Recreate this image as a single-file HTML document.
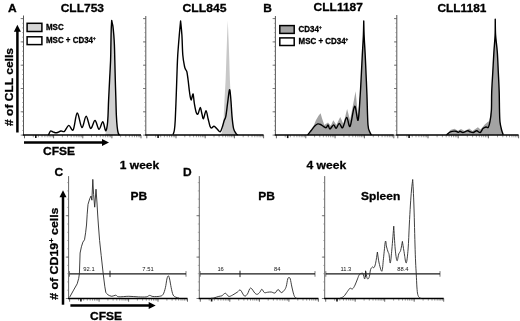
<!DOCTYPE html>
<html><head><meta charset="utf-8"><title>Figure</title>
<style>
html,body{margin:0;padding:0;background:#fff;}
svg{display:block;font-family:"Liberation Sans",Arial,sans-serif;filter:blur(0.35px);}
</style></head><body>
<svg width="520" height="321" viewBox="0 0 520 321">
<rect width="520" height="321" fill="#fff"/>
<path d="M105.00,135.30 C105.23,134.42 106.02,131.72 106.40,130.00 C106.78,128.28 107.03,127.33 107.30,125.00 C107.57,122.67 107.78,120.17 108.00,116.00 C108.22,111.83 108.33,106.00 108.60,100.00 C108.87,94.00 109.27,86.67 109.60,80.00 C109.93,73.33 110.38,65.83 110.60,60.00 C110.82,54.17 110.80,50.00 110.90,45.00 C111.00,40.00 111.07,34.08 111.20,30.00 C111.33,25.92 111.62,22.08 111.70,20.50 C111.90,21.42 112.55,23.58 112.90,26.00 C113.25,28.42 113.55,31.83 113.80,35.00 C114.05,38.17 114.23,40.83 114.40,45.00 C114.57,49.17 114.65,54.17 114.80,60.00 C114.95,65.83 115.12,73.33 115.30,80.00 C115.48,86.67 115.72,94.00 115.90,100.00 C116.08,106.00 116.18,111.50 116.40,116.00 C116.62,120.50 116.90,124.17 117.20,127.00 C117.50,129.83 117.80,131.62 118.20,133.00 C118.60,134.38 119.37,134.92 119.60,135.30 Z" fill="#d0d0d0"/>
<path d="M48.40,135.30 C48.75,134.58 49.73,131.57 50.50,131.00 C51.27,130.43 51.98,131.60 53.00,131.90 C54.02,132.20 55.27,132.95 56.60,132.80 C57.93,132.65 59.70,131.23 61.00,131.00 C62.30,130.77 63.10,132.33 64.40,131.40 C65.70,130.47 67.33,125.67 68.80,125.40 C70.27,125.13 71.80,131.87 73.20,129.80 C74.60,127.73 75.75,113.38 77.20,113.00 C78.65,112.62 80.40,126.97 81.90,127.50 C83.40,128.03 84.75,116.05 86.20,116.20 C87.65,116.35 89.13,127.68 90.60,128.40 C92.07,129.12 93.60,120.35 95.00,120.50 C96.40,120.65 97.70,129.08 99.00,129.30 C100.30,129.52 101.70,121.55 102.80,121.80 C103.90,122.05 104.85,130.27 105.60,130.80 C106.35,131.33 106.90,127.47 107.30,125.00 C107.70,122.53 107.78,120.17 108.00,116.00 C108.22,111.83 108.33,106.00 108.60,100.00 C108.87,94.00 109.27,86.67 109.60,80.00 C109.93,73.33 110.38,65.83 110.60,60.00 C110.82,54.17 110.80,50.00 110.90,45.00 C111.00,40.00 111.07,34.08 111.20,30.00 C111.33,25.92 111.62,22.08 111.70,20.50 C111.82,21.05 112.20,22.88 112.40,23.80 C112.60,24.72 112.67,24.13 112.90,26.00 C113.13,27.87 113.55,31.83 113.80,35.00 C114.05,38.17 114.23,40.83 114.40,45.00 C114.57,49.17 114.65,54.17 114.80,60.00 C114.95,65.83 115.12,73.33 115.30,80.00 C115.48,86.67 115.72,94.00 115.90,100.00 C116.08,106.00 116.18,111.50 116.40,116.00 C116.62,120.50 116.90,124.17 117.20,127.00 C117.50,129.83 117.80,131.62 118.20,133.00 C118.60,134.38 119.37,134.92 119.60,135.30" fill="none" stroke="#000" stroke-width="1.4" stroke-linejoin="round"/>
<path d="M219.50,135.00 C219.92,134.55 221.38,134.13 222.00,132.30 C222.62,130.47 222.92,126.48 223.20,124.00 C223.48,121.52 223.48,121.40 223.70,117.40 C223.92,113.40 224.18,106.23 224.50,100.00 C224.82,93.77 225.30,86.67 225.60,80.00 C225.90,73.33 226.07,66.67 226.30,60.00 C226.53,53.33 226.75,46.58 227.00,40.00 C227.25,33.42 227.67,23.75 227.80,20.50 C227.93,23.75 228.35,33.42 228.60,40.00 C228.85,46.58 229.08,53.33 229.30,60.00 C229.52,66.67 229.62,73.33 229.90,80.00 C230.18,86.67 230.65,93.77 231.00,100.00 C231.35,106.23 231.62,112.95 232.00,117.40 C232.38,121.85 232.78,124.05 233.30,126.70 C233.82,129.35 234.48,131.92 235.10,133.30 C235.72,134.68 236.68,134.72 237.00,135.00 Z" fill="#c8c8c8"/>
<path d="M173.10,134.60 C173.32,133.83 174.04,132.43 174.40,130.00 C174.76,127.57 174.94,125.83 175.25,120.00 C175.56,114.17 175.94,103.33 176.25,95.00 C176.56,86.67 176.85,76.67 177.10,70.00 C177.35,63.33 177.38,60.83 177.75,55.00 C178.12,49.17 178.83,40.67 179.30,35.00 C179.78,29.33 180.38,23.33 180.60,21.00 C180.82,23.33 181.53,29.33 181.90,35.00 C182.27,40.67 182.37,49.79 182.80,55.00 C183.23,60.21 184.03,63.85 184.50,66.25 C184.97,68.65 185.20,68.46 185.60,69.40 C186.00,70.34 186.48,70.13 186.90,71.90 C187.32,73.67 187.68,76.78 188.10,80.00 C188.52,83.22 189.05,88.50 189.40,91.25 C189.75,94.00 189.89,95.04 190.20,96.50 C190.51,97.96 190.90,100.08 191.25,100.00 C191.60,99.92 191.99,97.00 192.30,96.00 C192.61,95.00 192.87,93.67 193.10,94.00 C193.33,94.33 193.48,96.38 193.70,98.00 C193.92,99.62 193.97,101.33 194.40,103.75 C194.83,106.17 195.63,110.83 196.25,112.50 C196.87,114.17 197.43,114.58 198.10,113.75 C198.77,112.92 199.62,107.50 200.25,107.50 C200.88,107.50 201.36,111.88 201.90,113.75 C202.44,115.62 202.82,119.28 203.50,118.75 C204.18,118.22 205.23,110.60 206.00,110.60 C206.77,110.60 207.43,116.14 208.10,118.75 C208.77,121.36 209.43,124.69 210.00,126.25 C210.57,127.81 210.83,128.10 211.50,128.10 C212.17,128.10 213.10,126.14 214.00,126.25 C214.90,126.36 215.87,127.83 216.90,128.75 C217.93,129.68 219.28,132.14 220.20,131.80 C221.12,131.46 221.72,128.63 222.40,126.70 C223.08,124.77 223.73,121.92 224.30,120.20 C224.87,118.48 225.23,119.37 225.80,116.40 C226.37,113.43 227.08,106.85 227.70,102.40 C228.32,97.95 228.98,90.32 229.50,89.70 C230.02,89.08 230.37,94.08 230.80,98.70 C231.23,103.32 231.63,112.42 232.10,117.40 C232.57,122.38 232.97,125.95 233.60,128.60 C234.23,131.25 235.20,132.23 235.90,133.30 C236.60,134.37 237.48,134.72 237.80,135.00" fill="none" stroke="#000" stroke-width="1.4" stroke-linejoin="round"/>
<path d="M307.50,135.10 L314.00,124.90 L315.90,120.20 L318.70,115.50 L320.60,113.30 L322.00,118.30 L324.30,124.90 L328.00,122.60 L330.80,125.80 L333.30,120.20 L336.40,124.90 L340.20,117.00 L343.40,123.90 L347.10,109.00 L350.10,120.20 L355.60,91.30 L357.90,115.50 L360.20,95.00 L362.30,55.00 L363.40,35.00 L363.75,21.00 L364.10,35.00 L365.20,55.00 L366.95,95.00 L368.00,125.00 L370.00,132.50 L371.50,135.10 Z" fill="#a3a3a3"/>
<path d="M307.50,135.10 C308.12,134.33 309.95,132.05 311.20,130.50 C312.45,128.95 313.90,126.90 315.00,125.80 C316.10,124.70 316.87,124.12 317.80,123.90 C318.73,123.68 319.67,124.08 320.60,124.50 C321.53,124.92 322.47,125.87 323.40,126.40 C324.33,126.93 325.43,127.95 326.20,127.70 C326.97,127.45 327.38,124.68 328.00,124.90 C328.62,125.12 328.97,129.00 329.90,129.00 C330.83,129.00 332.57,125.03 333.60,124.90 C334.63,124.77 335.15,128.45 336.10,128.20 C337.05,127.95 338.22,123.48 339.30,123.40 C340.38,123.32 341.37,128.70 342.60,127.70 C343.83,126.70 345.45,117.62 346.70,117.40 C347.95,117.18 348.78,128.27 350.10,126.40 C351.42,124.53 353.27,107.23 354.60,106.20 C355.93,105.17 357.17,122.07 358.10,120.20 C359.03,118.33 359.67,102.53 360.20,95.00 C360.73,87.47 360.95,81.67 361.30,75.00 C361.65,68.33 361.95,61.67 362.30,55.00 C362.65,48.33 363.16,40.67 363.40,35.00 C363.64,29.33 363.69,23.33 363.75,21.00 C363.81,23.33 363.86,29.33 364.10,35.00 C364.34,40.67 364.87,48.33 365.20,55.00 C365.53,61.67 365.81,68.33 366.10,75.00 C366.39,81.67 366.63,86.67 366.95,95.00 C367.27,103.33 367.49,118.75 368.00,125.00 C368.51,131.25 369.42,130.82 370.00,132.50 C370.58,134.18 371.25,134.67 371.50,135.10" fill="none" stroke="#000" stroke-width="1.4" stroke-linejoin="round"/>
<path d="M446.50,134.90 L450.40,130.00 L454.40,128.80 L458.00,130.80 L461.00,129.00 L464.50,131.00 L469.20,128.50 L472.50,131.00 L477.90,127.30 L480.50,129.50 L484.80,124.40 L487.70,122.10 L489.40,121.00 L491.40,110.00 L491.70,92.00 L492.80,72.00 L493.90,52.00 L495.10,35.00 L495.25,19.20 L495.60,35.00 L497.30,52.00 L498.30,72.00 L499.20,92.00 L499.50,110.00 L500.00,122.00 L501.60,130.00 L503.30,134.80 Z" fill="#a3a3a3"/>
<path d="M446.50,134.90 C447.15,134.38 448.87,132.42 450.40,131.80 C451.93,131.18 454.37,131.10 455.70,131.20 C457.03,131.30 457.68,132.38 458.40,132.40 C459.12,132.42 459.25,131.28 460.00,131.30 C460.75,131.32 461.93,132.50 462.90,132.50 C463.87,132.50 464.95,131.58 465.80,131.30 C466.65,131.02 467.23,130.70 468.00,130.80 C468.77,130.90 469.52,131.62 470.40,131.90 C471.28,132.18 472.25,132.68 473.30,132.50 C474.35,132.32 475.55,130.80 476.70,130.80 C477.85,130.80 479.15,132.88 480.20,132.50 C481.25,132.12 482.03,129.42 483.00,128.50 C483.97,127.58 485.12,127.20 486.00,127.00 C486.88,126.80 487.63,128.22 488.30,127.30 C488.97,126.38 489.48,124.38 490.00,121.50 C490.52,118.62 491.12,114.92 491.40,110.00 C491.68,105.08 491.47,98.33 491.70,92.00 C491.93,85.67 492.43,78.67 492.80,72.00 C493.17,65.33 493.52,58.17 493.90,52.00 C494.28,45.83 494.88,40.47 495.10,35.00 C495.33,29.53 495.23,21.83 495.25,19.20 C495.31,21.83 495.26,29.53 495.60,35.00 C495.94,40.47 496.85,45.83 497.30,52.00 C497.75,58.17 497.98,65.33 498.30,72.00 C498.62,78.67 499.00,85.67 499.20,92.00 C499.40,98.33 499.37,105.00 499.50,110.00 C499.63,115.00 499.65,118.67 500.00,122.00 C500.35,125.33 501.05,127.87 501.60,130.00 C502.15,132.13 503.02,134.00 503.30,134.80" fill="none" stroke="#000" stroke-width="1.4" stroke-linejoin="round"/>
<path d="M23.5,15.5 V135.1" stroke="#444" stroke-width="0.9"/>
<path d="M23.5,135.1 h-2.8" stroke="#444" stroke-width="0.7"/>
<path d="M23.5,111.8 h-2.8" stroke="#444" stroke-width="0.7"/>
<path d="M23.5,88.5 h-2.8" stroke="#444" stroke-width="0.7"/>
<path d="M23.5,65.2 h-2.8" stroke="#444" stroke-width="0.7"/>
<path d="M23.5,41.9 h-2.8" stroke="#444" stroke-width="0.7"/>
<path d="M23.5,18.6 h-2.8" stroke="#444" stroke-width="0.7"/>
<path d="M23.5,135.1 h-1.5" stroke="#777" stroke-width="0.5"/>
<path d="M23.5,130.4 h-1.5" stroke="#777" stroke-width="0.5"/>
<path d="M23.5,125.8 h-1.5" stroke="#777" stroke-width="0.5"/>
<path d="M23.5,121.1 h-1.5" stroke="#777" stroke-width="0.5"/>
<path d="M23.5,116.5 h-1.5" stroke="#777" stroke-width="0.5"/>
<path d="M23.5,111.8 h-1.5" stroke="#777" stroke-width="0.5"/>
<path d="M23.5,107.1 h-1.5" stroke="#777" stroke-width="0.5"/>
<path d="M23.5,102.5 h-1.5" stroke="#777" stroke-width="0.5"/>
<path d="M23.5,97.8 h-1.5" stroke="#777" stroke-width="0.5"/>
<path d="M23.5,93.2 h-1.5" stroke="#777" stroke-width="0.5"/>
<path d="M23.5,88.5 h-1.5" stroke="#777" stroke-width="0.5"/>
<path d="M23.5,83.8 h-1.5" stroke="#777" stroke-width="0.5"/>
<path d="M23.5,79.2 h-1.5" stroke="#777" stroke-width="0.5"/>
<path d="M23.5,74.5 h-1.5" stroke="#777" stroke-width="0.5"/>
<path d="M23.5,69.9 h-1.5" stroke="#777" stroke-width="0.5"/>
<path d="M23.5,65.2 h-1.5" stroke="#777" stroke-width="0.5"/>
<path d="M23.5,60.5 h-1.5" stroke="#777" stroke-width="0.5"/>
<path d="M23.5,55.9 h-1.5" stroke="#777" stroke-width="0.5"/>
<path d="M23.5,51.2 h-1.5" stroke="#777" stroke-width="0.5"/>
<path d="M23.5,46.6 h-1.5" stroke="#777" stroke-width="0.5"/>
<path d="M23.5,41.9 h-1.5" stroke="#777" stroke-width="0.5"/>
<path d="M23.5,37.2 h-1.5" stroke="#777" stroke-width="0.5"/>
<path d="M23.5,32.6 h-1.5" stroke="#777" stroke-width="0.5"/>
<path d="M23.5,27.9 h-1.5" stroke="#777" stroke-width="0.5"/>
<path d="M23.5,23.3 h-1.5" stroke="#777" stroke-width="0.5"/>
<path d="M23.5,18.6 h-1.5" stroke="#777" stroke-width="0.5"/>
<path d="M24.5,135.1 v3.2" stroke="#222" stroke-width="0.7"/>
<path d="M33.3,135.1 v2.2" stroke="#444" stroke-width="0.5"/>
<path d="M38.4,135.1 v2.2" stroke="#444" stroke-width="0.5"/>
<path d="M42.0,135.1 v2.2" stroke="#444" stroke-width="0.5"/>
<path d="M44.9,135.1 v2.2" stroke="#444" stroke-width="0.5"/>
<path d="M47.2,135.1 v2.2" stroke="#444" stroke-width="0.5"/>
<path d="M49.1,135.1 v2.2" stroke="#444" stroke-width="0.5"/>
<path d="M50.8,135.1 v2.2" stroke="#444" stroke-width="0.5"/>
<path d="M52.3,135.1 v2.2" stroke="#444" stroke-width="0.5"/>
<path d="M53.6,135.1 v3.2" stroke="#222" stroke-width="0.7"/>
<path d="M62.4,135.1 v2.2" stroke="#444" stroke-width="0.5"/>
<path d="M67.5,135.1 v2.2" stroke="#444" stroke-width="0.5"/>
<path d="M71.2,135.1 v2.2" stroke="#444" stroke-width="0.5"/>
<path d="M74.0,135.1 v2.2" stroke="#444" stroke-width="0.5"/>
<path d="M76.3,135.1 v2.2" stroke="#444" stroke-width="0.5"/>
<path d="M78.2,135.1 v2.2" stroke="#444" stroke-width="0.5"/>
<path d="M79.9,135.1 v2.2" stroke="#444" stroke-width="0.5"/>
<path d="M81.4,135.1 v2.2" stroke="#444" stroke-width="0.5"/>
<path d="M82.8,135.1 v3.2" stroke="#222" stroke-width="0.7"/>
<path d="M91.5,135.1 v2.2" stroke="#444" stroke-width="0.5"/>
<path d="M96.6,135.1 v2.2" stroke="#444" stroke-width="0.5"/>
<path d="M100.3,135.1 v2.2" stroke="#444" stroke-width="0.5"/>
<path d="M103.1,135.1 v2.2" stroke="#444" stroke-width="0.5"/>
<path d="M105.4,135.1 v2.2" stroke="#444" stroke-width="0.5"/>
<path d="M107.4,135.1 v2.2" stroke="#444" stroke-width="0.5"/>
<path d="M109.1,135.1 v2.2" stroke="#444" stroke-width="0.5"/>
<path d="M110.5,135.1 v2.2" stroke="#444" stroke-width="0.5"/>
<path d="M111.9,135.1 v3.2" stroke="#222" stroke-width="0.7"/>
<path d="M120.6,135.1 v2.2" stroke="#444" stroke-width="0.5"/>
<path d="M125.8,135.1 v2.2" stroke="#444" stroke-width="0.5"/>
<path d="M129.4,135.1 v2.2" stroke="#444" stroke-width="0.5"/>
<path d="M132.2,135.1 v2.2" stroke="#444" stroke-width="0.5"/>
<path d="M134.5,135.1 v2.2" stroke="#444" stroke-width="0.5"/>
<path d="M136.5,135.1 v2.2" stroke="#444" stroke-width="0.5"/>
<path d="M138.2,135.1 v2.2" stroke="#444" stroke-width="0.5"/>
<path d="M139.7,135.1 v2.2" stroke="#444" stroke-width="0.5"/>
<path d="M141.0,135.1 v3.2" stroke="#222" stroke-width="0.7"/>
<path d="M35.8,135.1 v3" stroke="#111" stroke-width="1.6"/>
<path d="M22.9,135.1 H141.0" stroke="#000" stroke-width="1.5"/>
<path d="M145.8,16.0 V135.1" stroke="#444" stroke-width="0.9"/>
<path d="M145.8,135.1 h-2.8" stroke="#444" stroke-width="0.7"/>
<path d="M145.8,111.8 h-2.8" stroke="#444" stroke-width="0.7"/>
<path d="M145.8,88.5 h-2.8" stroke="#444" stroke-width="0.7"/>
<path d="M145.8,65.2 h-2.8" stroke="#444" stroke-width="0.7"/>
<path d="M145.8,41.9 h-2.8" stroke="#444" stroke-width="0.7"/>
<path d="M145.8,18.6 h-2.8" stroke="#444" stroke-width="0.7"/>
<path d="M145.8,135.1 h-1.5" stroke="#777" stroke-width="0.5"/>
<path d="M145.8,130.4 h-1.5" stroke="#777" stroke-width="0.5"/>
<path d="M145.8,125.8 h-1.5" stroke="#777" stroke-width="0.5"/>
<path d="M145.8,121.1 h-1.5" stroke="#777" stroke-width="0.5"/>
<path d="M145.8,116.5 h-1.5" stroke="#777" stroke-width="0.5"/>
<path d="M145.8,111.8 h-1.5" stroke="#777" stroke-width="0.5"/>
<path d="M145.8,107.1 h-1.5" stroke="#777" stroke-width="0.5"/>
<path d="M145.8,102.5 h-1.5" stroke="#777" stroke-width="0.5"/>
<path d="M145.8,97.8 h-1.5" stroke="#777" stroke-width="0.5"/>
<path d="M145.8,93.2 h-1.5" stroke="#777" stroke-width="0.5"/>
<path d="M145.8,88.5 h-1.5" stroke="#777" stroke-width="0.5"/>
<path d="M145.8,83.8 h-1.5" stroke="#777" stroke-width="0.5"/>
<path d="M145.8,79.2 h-1.5" stroke="#777" stroke-width="0.5"/>
<path d="M145.8,74.5 h-1.5" stroke="#777" stroke-width="0.5"/>
<path d="M145.8,69.9 h-1.5" stroke="#777" stroke-width="0.5"/>
<path d="M145.8,65.2 h-1.5" stroke="#777" stroke-width="0.5"/>
<path d="M145.8,60.5 h-1.5" stroke="#777" stroke-width="0.5"/>
<path d="M145.8,55.9 h-1.5" stroke="#777" stroke-width="0.5"/>
<path d="M145.8,51.2 h-1.5" stroke="#777" stroke-width="0.5"/>
<path d="M145.8,46.6 h-1.5" stroke="#777" stroke-width="0.5"/>
<path d="M145.8,41.9 h-1.5" stroke="#777" stroke-width="0.5"/>
<path d="M145.8,37.2 h-1.5" stroke="#777" stroke-width="0.5"/>
<path d="M145.8,32.6 h-1.5" stroke="#777" stroke-width="0.5"/>
<path d="M145.8,27.9 h-1.5" stroke="#777" stroke-width="0.5"/>
<path d="M145.8,23.3 h-1.5" stroke="#777" stroke-width="0.5"/>
<path d="M145.8,18.6 h-1.5" stroke="#777" stroke-width="0.5"/>
<path d="M146.8,135.1 v3.2" stroke="#222" stroke-width="0.7"/>
<path d="M155.6,135.1 v2.2" stroke="#444" stroke-width="0.5"/>
<path d="M160.7,135.1 v2.2" stroke="#444" stroke-width="0.5"/>
<path d="M164.4,135.1 v2.2" stroke="#444" stroke-width="0.5"/>
<path d="M167.2,135.1 v2.2" stroke="#444" stroke-width="0.5"/>
<path d="M169.5,135.1 v2.2" stroke="#444" stroke-width="0.5"/>
<path d="M171.5,135.1 v2.2" stroke="#444" stroke-width="0.5"/>
<path d="M173.2,135.1 v2.2" stroke="#444" stroke-width="0.5"/>
<path d="M174.7,135.1 v2.2" stroke="#444" stroke-width="0.5"/>
<path d="M176.0,135.1 v3.2" stroke="#222" stroke-width="0.7"/>
<path d="M184.8,135.1 v2.2" stroke="#444" stroke-width="0.5"/>
<path d="M189.9,135.1 v2.2" stroke="#444" stroke-width="0.5"/>
<path d="M193.6,135.1 v2.2" stroke="#444" stroke-width="0.5"/>
<path d="M196.4,135.1 v2.2" stroke="#444" stroke-width="0.5"/>
<path d="M198.7,135.1 v2.2" stroke="#444" stroke-width="0.5"/>
<path d="M200.7,135.1 v2.2" stroke="#444" stroke-width="0.5"/>
<path d="M202.4,135.1 v2.2" stroke="#444" stroke-width="0.5"/>
<path d="M203.9,135.1 v2.2" stroke="#444" stroke-width="0.5"/>
<path d="M205.2,135.1 v3.2" stroke="#222" stroke-width="0.7"/>
<path d="M214.0,135.1 v2.2" stroke="#444" stroke-width="0.5"/>
<path d="M219.1,135.1 v2.2" stroke="#444" stroke-width="0.5"/>
<path d="M222.8,135.1 v2.2" stroke="#444" stroke-width="0.5"/>
<path d="M225.6,135.1 v2.2" stroke="#444" stroke-width="0.5"/>
<path d="M227.9,135.1 v2.2" stroke="#444" stroke-width="0.5"/>
<path d="M229.9,135.1 v2.2" stroke="#444" stroke-width="0.5"/>
<path d="M231.6,135.1 v2.2" stroke="#444" stroke-width="0.5"/>
<path d="M233.1,135.1 v2.2" stroke="#444" stroke-width="0.5"/>
<path d="M234.4,135.1 v3.2" stroke="#222" stroke-width="0.7"/>
<path d="M243.2,135.1 v2.2" stroke="#444" stroke-width="0.5"/>
<path d="M248.3,135.1 v2.2" stroke="#444" stroke-width="0.5"/>
<path d="M252.0,135.1 v2.2" stroke="#444" stroke-width="0.5"/>
<path d="M254.8,135.1 v2.2" stroke="#444" stroke-width="0.5"/>
<path d="M257.1,135.1 v2.2" stroke="#444" stroke-width="0.5"/>
<path d="M259.1,135.1 v2.2" stroke="#444" stroke-width="0.5"/>
<path d="M260.8,135.1 v2.2" stroke="#444" stroke-width="0.5"/>
<path d="M262.3,135.1 v2.2" stroke="#444" stroke-width="0.5"/>
<path d="M263.6,135.1 v3.2" stroke="#222" stroke-width="0.7"/>
<path d="M158.1,135.1 v3" stroke="#111" stroke-width="1.6"/>
<path d="M145.2,135.1 H263.6" stroke="#000" stroke-width="1.5"/>
<path d="M275.4,16.0 V135.1" stroke="#444" stroke-width="0.9"/>
<path d="M275.4,135.1 h-2.8" stroke="#444" stroke-width="0.7"/>
<path d="M275.4,111.8 h-2.8" stroke="#444" stroke-width="0.7"/>
<path d="M275.4,88.5 h-2.8" stroke="#444" stroke-width="0.7"/>
<path d="M275.4,65.2 h-2.8" stroke="#444" stroke-width="0.7"/>
<path d="M275.4,41.9 h-2.8" stroke="#444" stroke-width="0.7"/>
<path d="M275.4,18.6 h-2.8" stroke="#444" stroke-width="0.7"/>
<path d="M275.4,135.1 h-1.5" stroke="#777" stroke-width="0.5"/>
<path d="M275.4,130.4 h-1.5" stroke="#777" stroke-width="0.5"/>
<path d="M275.4,125.8 h-1.5" stroke="#777" stroke-width="0.5"/>
<path d="M275.4,121.1 h-1.5" stroke="#777" stroke-width="0.5"/>
<path d="M275.4,116.5 h-1.5" stroke="#777" stroke-width="0.5"/>
<path d="M275.4,111.8 h-1.5" stroke="#777" stroke-width="0.5"/>
<path d="M275.4,107.1 h-1.5" stroke="#777" stroke-width="0.5"/>
<path d="M275.4,102.5 h-1.5" stroke="#777" stroke-width="0.5"/>
<path d="M275.4,97.8 h-1.5" stroke="#777" stroke-width="0.5"/>
<path d="M275.4,93.2 h-1.5" stroke="#777" stroke-width="0.5"/>
<path d="M275.4,88.5 h-1.5" stroke="#777" stroke-width="0.5"/>
<path d="M275.4,83.8 h-1.5" stroke="#777" stroke-width="0.5"/>
<path d="M275.4,79.2 h-1.5" stroke="#777" stroke-width="0.5"/>
<path d="M275.4,74.5 h-1.5" stroke="#777" stroke-width="0.5"/>
<path d="M275.4,69.9 h-1.5" stroke="#777" stroke-width="0.5"/>
<path d="M275.4,65.2 h-1.5" stroke="#777" stroke-width="0.5"/>
<path d="M275.4,60.5 h-1.5" stroke="#777" stroke-width="0.5"/>
<path d="M275.4,55.9 h-1.5" stroke="#777" stroke-width="0.5"/>
<path d="M275.4,51.2 h-1.5" stroke="#777" stroke-width="0.5"/>
<path d="M275.4,46.6 h-1.5" stroke="#777" stroke-width="0.5"/>
<path d="M275.4,41.9 h-1.5" stroke="#777" stroke-width="0.5"/>
<path d="M275.4,37.2 h-1.5" stroke="#777" stroke-width="0.5"/>
<path d="M275.4,32.6 h-1.5" stroke="#777" stroke-width="0.5"/>
<path d="M275.4,27.9 h-1.5" stroke="#777" stroke-width="0.5"/>
<path d="M275.4,23.3 h-1.5" stroke="#777" stroke-width="0.5"/>
<path d="M275.4,18.6 h-1.5" stroke="#777" stroke-width="0.5"/>
<path d="M276.4,135.1 v3.2" stroke="#222" stroke-width="0.7"/>
<path d="M285.2,135.1 v2.2" stroke="#444" stroke-width="0.5"/>
<path d="M290.4,135.1 v2.2" stroke="#444" stroke-width="0.5"/>
<path d="M294.1,135.1 v2.2" stroke="#444" stroke-width="0.5"/>
<path d="M296.9,135.1 v2.2" stroke="#444" stroke-width="0.5"/>
<path d="M299.2,135.1 v2.2" stroke="#444" stroke-width="0.5"/>
<path d="M301.2,135.1 v2.2" stroke="#444" stroke-width="0.5"/>
<path d="M302.9,135.1 v2.2" stroke="#444" stroke-width="0.5"/>
<path d="M304.4,135.1 v2.2" stroke="#444" stroke-width="0.5"/>
<path d="M305.8,135.1 v3.2" stroke="#222" stroke-width="0.7"/>
<path d="M314.6,135.1 v2.2" stroke="#444" stroke-width="0.5"/>
<path d="M319.8,135.1 v2.2" stroke="#444" stroke-width="0.5"/>
<path d="M323.4,135.1 v2.2" stroke="#444" stroke-width="0.5"/>
<path d="M326.3,135.1 v2.2" stroke="#444" stroke-width="0.5"/>
<path d="M328.6,135.1 v2.2" stroke="#444" stroke-width="0.5"/>
<path d="M330.6,135.1 v2.2" stroke="#444" stroke-width="0.5"/>
<path d="M332.3,135.1 v2.2" stroke="#444" stroke-width="0.5"/>
<path d="M333.8,135.1 v2.2" stroke="#444" stroke-width="0.5"/>
<path d="M335.1,135.1 v3.2" stroke="#222" stroke-width="0.7"/>
<path d="M343.9,135.1 v2.2" stroke="#444" stroke-width="0.5"/>
<path d="M349.1,135.1 v2.2" stroke="#444" stroke-width="0.5"/>
<path d="M352.8,135.1 v2.2" stroke="#444" stroke-width="0.5"/>
<path d="M355.6,135.1 v2.2" stroke="#444" stroke-width="0.5"/>
<path d="M357.9,135.1 v2.2" stroke="#444" stroke-width="0.5"/>
<path d="M359.9,135.1 v2.2" stroke="#444" stroke-width="0.5"/>
<path d="M361.6,135.1 v2.2" stroke="#444" stroke-width="0.5"/>
<path d="M363.1,135.1 v2.2" stroke="#444" stroke-width="0.5"/>
<path d="M364.4,135.1 v3.2" stroke="#222" stroke-width="0.7"/>
<path d="M373.3,135.1 v2.2" stroke="#444" stroke-width="0.5"/>
<path d="M378.5,135.1 v2.2" stroke="#444" stroke-width="0.5"/>
<path d="M382.1,135.1 v2.2" stroke="#444" stroke-width="0.5"/>
<path d="M385.0,135.1 v2.2" stroke="#444" stroke-width="0.5"/>
<path d="M387.3,135.1 v2.2" stroke="#444" stroke-width="0.5"/>
<path d="M389.3,135.1 v2.2" stroke="#444" stroke-width="0.5"/>
<path d="M391.0,135.1 v2.2" stroke="#444" stroke-width="0.5"/>
<path d="M392.5,135.1 v2.2" stroke="#444" stroke-width="0.5"/>
<path d="M393.8,135.1 v3.2" stroke="#222" stroke-width="0.7"/>
<path d="M287.7,135.1 v3" stroke="#111" stroke-width="1.6"/>
<path d="M274.8,135.1 H393.8" stroke="#000" stroke-width="1.5"/>
<path d="M396.8,15.0 V135.1" stroke="#444" stroke-width="0.9"/>
<path d="M396.8,135.1 h-2.8" stroke="#444" stroke-width="0.7"/>
<path d="M396.8,111.8 h-2.8" stroke="#444" stroke-width="0.7"/>
<path d="M396.8,88.5 h-2.8" stroke="#444" stroke-width="0.7"/>
<path d="M396.8,65.2 h-2.8" stroke="#444" stroke-width="0.7"/>
<path d="M396.8,41.9 h-2.8" stroke="#444" stroke-width="0.7"/>
<path d="M396.8,18.6 h-2.8" stroke="#444" stroke-width="0.7"/>
<path d="M396.8,135.1 h-1.5" stroke="#777" stroke-width="0.5"/>
<path d="M396.8,130.4 h-1.5" stroke="#777" stroke-width="0.5"/>
<path d="M396.8,125.8 h-1.5" stroke="#777" stroke-width="0.5"/>
<path d="M396.8,121.1 h-1.5" stroke="#777" stroke-width="0.5"/>
<path d="M396.8,116.5 h-1.5" stroke="#777" stroke-width="0.5"/>
<path d="M396.8,111.8 h-1.5" stroke="#777" stroke-width="0.5"/>
<path d="M396.8,107.1 h-1.5" stroke="#777" stroke-width="0.5"/>
<path d="M396.8,102.5 h-1.5" stroke="#777" stroke-width="0.5"/>
<path d="M396.8,97.8 h-1.5" stroke="#777" stroke-width="0.5"/>
<path d="M396.8,93.2 h-1.5" stroke="#777" stroke-width="0.5"/>
<path d="M396.8,88.5 h-1.5" stroke="#777" stroke-width="0.5"/>
<path d="M396.8,83.8 h-1.5" stroke="#777" stroke-width="0.5"/>
<path d="M396.8,79.2 h-1.5" stroke="#777" stroke-width="0.5"/>
<path d="M396.8,74.5 h-1.5" stroke="#777" stroke-width="0.5"/>
<path d="M396.8,69.9 h-1.5" stroke="#777" stroke-width="0.5"/>
<path d="M396.8,65.2 h-1.5" stroke="#777" stroke-width="0.5"/>
<path d="M396.8,60.5 h-1.5" stroke="#777" stroke-width="0.5"/>
<path d="M396.8,55.9 h-1.5" stroke="#777" stroke-width="0.5"/>
<path d="M396.8,51.2 h-1.5" stroke="#777" stroke-width="0.5"/>
<path d="M396.8,46.6 h-1.5" stroke="#777" stroke-width="0.5"/>
<path d="M396.8,41.9 h-1.5" stroke="#777" stroke-width="0.5"/>
<path d="M396.8,37.2 h-1.5" stroke="#777" stroke-width="0.5"/>
<path d="M396.8,32.6 h-1.5" stroke="#777" stroke-width="0.5"/>
<path d="M396.8,27.9 h-1.5" stroke="#777" stroke-width="0.5"/>
<path d="M396.8,23.3 h-1.5" stroke="#777" stroke-width="0.5"/>
<path d="M396.8,18.6 h-1.5" stroke="#777" stroke-width="0.5"/>
<path d="M397.8,135.1 v3.2" stroke="#222" stroke-width="0.7"/>
<path d="M406.9,135.1 v2.2" stroke="#444" stroke-width="0.5"/>
<path d="M412.2,135.1 v2.2" stroke="#444" stroke-width="0.5"/>
<path d="M416.0,135.1 v2.2" stroke="#444" stroke-width="0.5"/>
<path d="M418.9,135.1 v2.2" stroke="#444" stroke-width="0.5"/>
<path d="M421.3,135.1 v2.2" stroke="#444" stroke-width="0.5"/>
<path d="M423.3,135.1 v2.2" stroke="#444" stroke-width="0.5"/>
<path d="M425.1,135.1 v2.2" stroke="#444" stroke-width="0.5"/>
<path d="M426.6,135.1 v2.2" stroke="#444" stroke-width="0.5"/>
<path d="M428.0,135.1 v3.2" stroke="#222" stroke-width="0.7"/>
<path d="M437.1,135.1 v2.2" stroke="#444" stroke-width="0.5"/>
<path d="M442.4,135.1 v2.2" stroke="#444" stroke-width="0.5"/>
<path d="M446.2,135.1 v2.2" stroke="#444" stroke-width="0.5"/>
<path d="M449.1,135.1 v2.2" stroke="#444" stroke-width="0.5"/>
<path d="M451.5,135.1 v2.2" stroke="#444" stroke-width="0.5"/>
<path d="M453.5,135.1 v2.2" stroke="#444" stroke-width="0.5"/>
<path d="M455.3,135.1 v2.2" stroke="#444" stroke-width="0.5"/>
<path d="M456.8,135.1 v2.2" stroke="#444" stroke-width="0.5"/>
<path d="M458.2,135.1 v3.2" stroke="#222" stroke-width="0.7"/>
<path d="M467.3,135.1 v2.2" stroke="#444" stroke-width="0.5"/>
<path d="M472.6,135.1 v2.2" stroke="#444" stroke-width="0.5"/>
<path d="M476.4,135.1 v2.2" stroke="#444" stroke-width="0.5"/>
<path d="M479.3,135.1 v2.2" stroke="#444" stroke-width="0.5"/>
<path d="M481.7,135.1 v2.2" stroke="#444" stroke-width="0.5"/>
<path d="M483.7,135.1 v2.2" stroke="#444" stroke-width="0.5"/>
<path d="M485.5,135.1 v2.2" stroke="#444" stroke-width="0.5"/>
<path d="M487.0,135.1 v2.2" stroke="#444" stroke-width="0.5"/>
<path d="M488.4,135.1 v3.2" stroke="#222" stroke-width="0.7"/>
<path d="M497.5,135.1 v2.2" stroke="#444" stroke-width="0.5"/>
<path d="M502.8,135.1 v2.2" stroke="#444" stroke-width="0.5"/>
<path d="M506.6,135.1 v2.2" stroke="#444" stroke-width="0.5"/>
<path d="M509.5,135.1 v2.2" stroke="#444" stroke-width="0.5"/>
<path d="M511.9,135.1 v2.2" stroke="#444" stroke-width="0.5"/>
<path d="M513.9,135.1 v2.2" stroke="#444" stroke-width="0.5"/>
<path d="M515.7,135.1 v2.2" stroke="#444" stroke-width="0.5"/>
<path d="M517.2,135.1 v2.2" stroke="#444" stroke-width="0.5"/>
<path d="M518.6,135.1 v3.2" stroke="#222" stroke-width="0.7"/>
<path d="M409.1,135.1 v3" stroke="#111" stroke-width="1.6"/>
<path d="M396.2,135.1 H518.6" stroke="#000" stroke-width="1.5"/>
<path d="M68.6,176.1 V298.5" stroke="#555" stroke-width="0.9"/>
<path d="M68.6,298.5 h-2.8" stroke="#444" stroke-width="0.7"/>
<path d="M68.6,257.1 h-2.8" stroke="#444" stroke-width="0.7"/>
<path d="M68.6,215.7 h-2.8" stroke="#444" stroke-width="0.7"/>
<path d="M68.6,298.5 h-1.5" stroke="#777" stroke-width="0.5"/>
<path d="M68.6,290.2 h-1.5" stroke="#777" stroke-width="0.5"/>
<path d="M68.6,281.9 h-1.5" stroke="#777" stroke-width="0.5"/>
<path d="M68.6,273.7 h-1.5" stroke="#777" stroke-width="0.5"/>
<path d="M68.6,265.4 h-1.5" stroke="#777" stroke-width="0.5"/>
<path d="M68.6,257.1 h-1.5" stroke="#777" stroke-width="0.5"/>
<path d="M68.6,248.8 h-1.5" stroke="#777" stroke-width="0.5"/>
<path d="M68.6,240.5 h-1.5" stroke="#777" stroke-width="0.5"/>
<path d="M68.6,232.3 h-1.5" stroke="#777" stroke-width="0.5"/>
<path d="M68.6,224.0 h-1.5" stroke="#777" stroke-width="0.5"/>
<path d="M68.6,215.7 h-1.5" stroke="#777" stroke-width="0.5"/>
<path d="M68.6,207.4 h-1.5" stroke="#777" stroke-width="0.5"/>
<path d="M68.6,199.1 h-1.5" stroke="#777" stroke-width="0.5"/>
<path d="M68.6,190.9 h-1.5" stroke="#777" stroke-width="0.5"/>
<path d="M68.6,182.6 h-1.5" stroke="#777" stroke-width="0.5"/>
<path d="M69.6,298.5 v3.2" stroke="#222" stroke-width="0.7"/>
<path d="M78.5,298.5 v2.2" stroke="#444" stroke-width="0.5"/>
<path d="M83.7,298.5 v2.2" stroke="#444" stroke-width="0.5"/>
<path d="M87.3,298.5 v2.2" stroke="#444" stroke-width="0.5"/>
<path d="M90.2,298.5 v2.2" stroke="#444" stroke-width="0.5"/>
<path d="M92.5,298.5 v2.2" stroke="#444" stroke-width="0.5"/>
<path d="M94.5,298.5 v2.2" stroke="#444" stroke-width="0.5"/>
<path d="M96.2,298.5 v2.2" stroke="#444" stroke-width="0.5"/>
<path d="M97.7,298.5 v2.2" stroke="#444" stroke-width="0.5"/>
<path d="M99.1,298.5 v3.2" stroke="#222" stroke-width="0.7"/>
<path d="M107.9,298.5 v2.2" stroke="#444" stroke-width="0.5"/>
<path d="M113.1,298.5 v2.2" stroke="#444" stroke-width="0.5"/>
<path d="M116.8,298.5 v2.2" stroke="#444" stroke-width="0.5"/>
<path d="M119.7,298.5 v2.2" stroke="#444" stroke-width="0.5"/>
<path d="M122.0,298.5 v2.2" stroke="#444" stroke-width="0.5"/>
<path d="M124.0,298.5 v2.2" stroke="#444" stroke-width="0.5"/>
<path d="M125.7,298.5 v2.2" stroke="#444" stroke-width="0.5"/>
<path d="M127.2,298.5 v2.2" stroke="#444" stroke-width="0.5"/>
<path d="M128.6,298.5 v3.2" stroke="#222" stroke-width="0.7"/>
<path d="M137.4,298.5 v2.2" stroke="#444" stroke-width="0.5"/>
<path d="M142.6,298.5 v2.2" stroke="#444" stroke-width="0.5"/>
<path d="M146.3,298.5 v2.2" stroke="#444" stroke-width="0.5"/>
<path d="M149.2,298.5 v2.2" stroke="#444" stroke-width="0.5"/>
<path d="M151.5,298.5 v2.2" stroke="#444" stroke-width="0.5"/>
<path d="M153.5,298.5 v2.2" stroke="#444" stroke-width="0.5"/>
<path d="M155.2,298.5 v2.2" stroke="#444" stroke-width="0.5"/>
<path d="M156.7,298.5 v2.2" stroke="#444" stroke-width="0.5"/>
<path d="M158.0,298.5 v3.2" stroke="#222" stroke-width="0.7"/>
<path d="M166.9,298.5 v2.2" stroke="#444" stroke-width="0.5"/>
<path d="M172.1,298.5 v2.2" stroke="#444" stroke-width="0.5"/>
<path d="M175.8,298.5 v2.2" stroke="#444" stroke-width="0.5"/>
<path d="M178.6,298.5 v2.2" stroke="#444" stroke-width="0.5"/>
<path d="M181.0,298.5 v2.2" stroke="#444" stroke-width="0.5"/>
<path d="M182.9,298.5 v2.2" stroke="#444" stroke-width="0.5"/>
<path d="M184.6,298.5 v2.2" stroke="#444" stroke-width="0.5"/>
<path d="M186.2,298.5 v2.2" stroke="#444" stroke-width="0.5"/>
<path d="M187.5,298.5 v3.2" stroke="#222" stroke-width="0.7"/>
<path d="M80.9,298.5 v3" stroke="#111" stroke-width="1.6"/>
<path d="M68.0,298.5 H187.5" stroke="#000" stroke-width="1.5"/>
<path d="M199.3,176.1 V298.5" stroke="#555" stroke-width="0.9"/>
<path d="M199.3,298.5 h-2.8" stroke="#444" stroke-width="0.7"/>
<path d="M199.3,257.1 h-2.8" stroke="#444" stroke-width="0.7"/>
<path d="M199.3,215.7 h-2.8" stroke="#444" stroke-width="0.7"/>
<path d="M199.3,298.5 h-1.5" stroke="#777" stroke-width="0.5"/>
<path d="M199.3,290.2 h-1.5" stroke="#777" stroke-width="0.5"/>
<path d="M199.3,281.9 h-1.5" stroke="#777" stroke-width="0.5"/>
<path d="M199.3,273.7 h-1.5" stroke="#777" stroke-width="0.5"/>
<path d="M199.3,265.4 h-1.5" stroke="#777" stroke-width="0.5"/>
<path d="M199.3,257.1 h-1.5" stroke="#777" stroke-width="0.5"/>
<path d="M199.3,248.8 h-1.5" stroke="#777" stroke-width="0.5"/>
<path d="M199.3,240.5 h-1.5" stroke="#777" stroke-width="0.5"/>
<path d="M199.3,232.3 h-1.5" stroke="#777" stroke-width="0.5"/>
<path d="M199.3,224.0 h-1.5" stroke="#777" stroke-width="0.5"/>
<path d="M199.3,215.7 h-1.5" stroke="#777" stroke-width="0.5"/>
<path d="M199.3,207.4 h-1.5" stroke="#777" stroke-width="0.5"/>
<path d="M199.3,199.1 h-1.5" stroke="#777" stroke-width="0.5"/>
<path d="M199.3,190.9 h-1.5" stroke="#777" stroke-width="0.5"/>
<path d="M199.3,182.6 h-1.5" stroke="#777" stroke-width="0.5"/>
<path d="M200.3,298.5 v3.2" stroke="#222" stroke-width="0.7"/>
<path d="M209.2,298.5 v2.2" stroke="#444" stroke-width="0.5"/>
<path d="M214.4,298.5 v2.2" stroke="#444" stroke-width="0.5"/>
<path d="M218.1,298.5 v2.2" stroke="#444" stroke-width="0.5"/>
<path d="M220.9,298.5 v2.2" stroke="#444" stroke-width="0.5"/>
<path d="M223.3,298.5 v2.2" stroke="#444" stroke-width="0.5"/>
<path d="M225.3,298.5 v2.2" stroke="#444" stroke-width="0.5"/>
<path d="M227.0,298.5 v2.2" stroke="#444" stroke-width="0.5"/>
<path d="M228.5,298.5 v2.2" stroke="#444" stroke-width="0.5"/>
<path d="M229.8,298.5 v3.2" stroke="#222" stroke-width="0.7"/>
<path d="M238.7,298.5 v2.2" stroke="#444" stroke-width="0.5"/>
<path d="M243.9,298.5 v2.2" stroke="#444" stroke-width="0.5"/>
<path d="M247.6,298.5 v2.2" stroke="#444" stroke-width="0.5"/>
<path d="M250.5,298.5 v2.2" stroke="#444" stroke-width="0.5"/>
<path d="M252.8,298.5 v2.2" stroke="#444" stroke-width="0.5"/>
<path d="M254.8,298.5 v2.2" stroke="#444" stroke-width="0.5"/>
<path d="M256.5,298.5 v2.2" stroke="#444" stroke-width="0.5"/>
<path d="M258.0,298.5 v2.2" stroke="#444" stroke-width="0.5"/>
<path d="M259.4,298.5 v3.2" stroke="#222" stroke-width="0.7"/>
<path d="M268.2,298.5 v2.2" stroke="#444" stroke-width="0.5"/>
<path d="M273.4,298.5 v2.2" stroke="#444" stroke-width="0.5"/>
<path d="M277.1,298.5 v2.2" stroke="#444" stroke-width="0.5"/>
<path d="M280.0,298.5 v2.2" stroke="#444" stroke-width="0.5"/>
<path d="M282.3,298.5 v2.2" stroke="#444" stroke-width="0.5"/>
<path d="M284.3,298.5 v2.2" stroke="#444" stroke-width="0.5"/>
<path d="M286.0,298.5 v2.2" stroke="#444" stroke-width="0.5"/>
<path d="M287.5,298.5 v2.2" stroke="#444" stroke-width="0.5"/>
<path d="M288.9,298.5 v3.2" stroke="#222" stroke-width="0.7"/>
<path d="M297.8,298.5 v2.2" stroke="#444" stroke-width="0.5"/>
<path d="M303.0,298.5 v2.2" stroke="#444" stroke-width="0.5"/>
<path d="M306.7,298.5 v2.2" stroke="#444" stroke-width="0.5"/>
<path d="M309.5,298.5 v2.2" stroke="#444" stroke-width="0.5"/>
<path d="M311.8,298.5 v2.2" stroke="#444" stroke-width="0.5"/>
<path d="M313.8,298.5 v2.2" stroke="#444" stroke-width="0.5"/>
<path d="M315.5,298.5 v2.2" stroke="#444" stroke-width="0.5"/>
<path d="M317.0,298.5 v2.2" stroke="#444" stroke-width="0.5"/>
<path d="M318.4,298.5 v3.2" stroke="#222" stroke-width="0.7"/>
<path d="M211.6,298.5 v3" stroke="#111" stroke-width="1.6"/>
<path d="M198.7,298.5 H318.4" stroke="#000" stroke-width="1.5"/>
<path d="M324.7,176.1 V298.5" stroke="#555" stroke-width="0.9"/>
<path d="M324.7,298.5 h-2.8" stroke="#444" stroke-width="0.7"/>
<path d="M324.7,257.1 h-2.8" stroke="#444" stroke-width="0.7"/>
<path d="M324.7,215.7 h-2.8" stroke="#444" stroke-width="0.7"/>
<path d="M324.7,298.5 h-1.5" stroke="#777" stroke-width="0.5"/>
<path d="M324.7,290.2 h-1.5" stroke="#777" stroke-width="0.5"/>
<path d="M324.7,281.9 h-1.5" stroke="#777" stroke-width="0.5"/>
<path d="M324.7,273.7 h-1.5" stroke="#777" stroke-width="0.5"/>
<path d="M324.7,265.4 h-1.5" stroke="#777" stroke-width="0.5"/>
<path d="M324.7,257.1 h-1.5" stroke="#777" stroke-width="0.5"/>
<path d="M324.7,248.8 h-1.5" stroke="#777" stroke-width="0.5"/>
<path d="M324.7,240.5 h-1.5" stroke="#777" stroke-width="0.5"/>
<path d="M324.7,232.3 h-1.5" stroke="#777" stroke-width="0.5"/>
<path d="M324.7,224.0 h-1.5" stroke="#777" stroke-width="0.5"/>
<path d="M324.7,215.7 h-1.5" stroke="#777" stroke-width="0.5"/>
<path d="M324.7,207.4 h-1.5" stroke="#777" stroke-width="0.5"/>
<path d="M324.7,199.1 h-1.5" stroke="#777" stroke-width="0.5"/>
<path d="M324.7,190.9 h-1.5" stroke="#777" stroke-width="0.5"/>
<path d="M324.7,182.6 h-1.5" stroke="#777" stroke-width="0.5"/>
<path d="M325.7,298.5 v3.2" stroke="#222" stroke-width="0.7"/>
<path d="M334.6,298.5 v2.2" stroke="#444" stroke-width="0.5"/>
<path d="M339.8,298.5 v2.2" stroke="#444" stroke-width="0.5"/>
<path d="M343.5,298.5 v2.2" stroke="#444" stroke-width="0.5"/>
<path d="M346.3,298.5 v2.2" stroke="#444" stroke-width="0.5"/>
<path d="M348.7,298.5 v2.2" stroke="#444" stroke-width="0.5"/>
<path d="M350.6,298.5 v2.2" stroke="#444" stroke-width="0.5"/>
<path d="M352.3,298.5 v2.2" stroke="#444" stroke-width="0.5"/>
<path d="M353.9,298.5 v2.2" stroke="#444" stroke-width="0.5"/>
<path d="M355.2,298.5 v3.2" stroke="#222" stroke-width="0.7"/>
<path d="M364.1,298.5 v2.2" stroke="#444" stroke-width="0.5"/>
<path d="M369.3,298.5 v2.2" stroke="#444" stroke-width="0.5"/>
<path d="M373.0,298.5 v2.2" stroke="#444" stroke-width="0.5"/>
<path d="M375.8,298.5 v2.2" stroke="#444" stroke-width="0.5"/>
<path d="M378.2,298.5 v2.2" stroke="#444" stroke-width="0.5"/>
<path d="M380.1,298.5 v2.2" stroke="#444" stroke-width="0.5"/>
<path d="M381.8,298.5 v2.2" stroke="#444" stroke-width="0.5"/>
<path d="M383.4,298.5 v2.2" stroke="#444" stroke-width="0.5"/>
<path d="M384.7,298.5 v3.2" stroke="#222" stroke-width="0.7"/>
<path d="M393.6,298.5 v2.2" stroke="#444" stroke-width="0.5"/>
<path d="M398.8,298.5 v2.2" stroke="#444" stroke-width="0.5"/>
<path d="M402.5,298.5 v2.2" stroke="#444" stroke-width="0.5"/>
<path d="M405.3,298.5 v2.2" stroke="#444" stroke-width="0.5"/>
<path d="M407.7,298.5 v2.2" stroke="#444" stroke-width="0.5"/>
<path d="M409.6,298.5 v2.2" stroke="#444" stroke-width="0.5"/>
<path d="M411.3,298.5 v2.2" stroke="#444" stroke-width="0.5"/>
<path d="M412.9,298.5 v2.2" stroke="#444" stroke-width="0.5"/>
<path d="M414.2,298.5 v3.2" stroke="#222" stroke-width="0.7"/>
<path d="M423.1,298.5 v2.2" stroke="#444" stroke-width="0.5"/>
<path d="M428.3,298.5 v2.2" stroke="#444" stroke-width="0.5"/>
<path d="M432.0,298.5 v2.2" stroke="#444" stroke-width="0.5"/>
<path d="M434.8,298.5 v2.2" stroke="#444" stroke-width="0.5"/>
<path d="M437.2,298.5 v2.2" stroke="#444" stroke-width="0.5"/>
<path d="M439.1,298.5 v2.2" stroke="#444" stroke-width="0.5"/>
<path d="M440.8,298.5 v2.2" stroke="#444" stroke-width="0.5"/>
<path d="M442.4,298.5 v2.2" stroke="#444" stroke-width="0.5"/>
<path d="M443.7,298.5 v3.2" stroke="#222" stroke-width="0.7"/>
<path d="M337.0,298.5 v3" stroke="#111" stroke-width="1.6"/>
<path d="M324.1,298.5 H443.7" stroke="#000" stroke-width="1.5"/>
<path d="M69.5,271.1 v5.6 M186.0,271.1 v5.6" stroke="#555" stroke-width="0.8" fill="none"/>
<path d="M110.0,270.7 v6.4" stroke="#222" stroke-width="1" fill="none"/>
<path d="M69.5,273.9 H186.0" stroke="#1a1a1a" stroke-width="1.4" fill="none"/>
<path d="M200.2,271.1 v5.6 M315.0,271.1 v5.6" stroke="#555" stroke-width="0.8" fill="none"/>
<path d="M240.0,270.7 v6.4" stroke="#222" stroke-width="1" fill="none"/>
<path d="M200.2,273.9 H315.0" stroke="#1a1a1a" stroke-width="1.4" fill="none"/>
<path d="M325.8,271.1 v5.6 M440.0,271.1 v5.6" stroke="#555" stroke-width="0.8" fill="none"/>
<path d="M365.5,270.7 v6.4" stroke="#222" stroke-width="1" fill="none"/>
<path d="M325.8,273.9 H440.0" stroke="#1a1a1a" stroke-width="1.4" fill="none"/>
<path d="M69.60,297.30 L73.60,290.10 L77.20,283.80 L78.70,278.40 L79.40,273.70 L79.80,262.00 L80.10,253.00 L81.40,246.80 L82.90,242.10 L84.50,239.80 L85.60,232.80 L86.50,225.00 L87.20,214.20 L88.00,204.40 L89.70,198.80 L91.00,196.00 L91.90,200.20 L92.80,179.40 L93.60,194.60 L94.70,207.20 L96.00,189.20 L97.00,203.00 L97.70,215.00 L98.40,225.00 L99.60,240.60 L101.20,255.50 L103.20,273.70 L104.75,286.20 L105.80,292.40 L105.80,292.40 C106.15,292.79 106.90,294.10 107.90,294.75 C108.90,295.40 110.50,296.23 111.80,296.30 C113.10,296.38 114.53,295.12 115.70,295.20 C116.87,295.28 116.62,296.62 118.80,296.80 C120.98,296.98 125.52,296.28 128.80,296.30 C132.08,296.32 135.60,296.80 138.50,296.90 C141.40,297.00 144.35,297.15 146.20,296.90 C148.05,296.65 148.48,295.47 149.60,295.40 C150.72,295.33 151.23,296.35 152.90,296.50 C154.57,296.65 157.90,296.65 159.60,296.30 C161.30,295.95 162.13,295.83 163.10,294.40 C164.07,292.97 164.77,290.27 165.40,287.70 C166.03,285.13 166.42,280.98 166.90,279.00 C167.38,277.02 167.85,275.80 168.30,275.80 C168.75,275.80 169.12,277.02 169.60,279.00 C170.08,280.98 170.62,285.03 171.20,287.70 C171.78,290.37 172.30,293.40 173.10,295.00 C173.90,296.60 175.05,296.82 176.00,297.30 C176.95,297.78 178.33,297.80 178.80,297.90" fill="none" stroke="#2a2a2a" stroke-width="0.9" stroke-linejoin="round"/>
<path d="M211.00,298.30 C211.46,298.25 212.46,298.32 213.75,298.00 C215.04,297.68 217.39,296.77 218.75,296.40 C220.11,296.02 220.79,296.27 221.90,295.75 C223.01,295.23 224.26,293.14 225.40,293.25 C226.54,293.36 227.57,296.09 228.75,296.40 C229.93,296.71 231.04,295.83 232.50,295.10 C233.96,294.37 236.18,292.83 237.50,292.00 C238.82,291.17 239.25,289.43 240.40,290.10 C241.55,290.77 243.22,295.37 244.40,296.00 C245.58,296.63 246.47,295.23 247.50,293.90 C248.53,292.57 249.35,288.11 250.60,288.00 C251.85,287.89 253.85,292.21 255.00,293.25 C256.15,294.29 256.67,294.46 257.50,294.25 C258.33,294.04 259.27,292.83 260.00,292.00 C260.73,291.17 261.17,289.15 261.90,289.25 C262.63,289.35 263.47,292.10 264.40,292.60 C265.33,293.10 266.36,292.35 267.50,292.25 C268.64,292.15 270.00,291.88 271.25,292.00 C272.50,292.12 273.86,293.42 275.00,293.00 C276.14,292.58 277.06,289.57 278.10,289.50 C279.14,289.43 280.20,292.50 281.25,292.60 C282.30,292.70 283.57,291.13 284.40,290.10 C285.23,289.07 285.69,288.27 286.25,286.40 C286.81,284.53 287.29,280.42 287.75,278.90 C288.21,277.38 288.79,277.52 289.00,277.25 C289.21,277.52 289.77,277.27 290.25,278.90 C290.73,280.52 291.32,284.40 291.90,287.00 C292.48,289.60 293.19,292.73 293.75,294.50 C294.31,296.27 294.73,296.97 295.25,297.60 C295.77,298.23 296.62,298.18 296.90,298.30" fill="none" stroke="#2a2a2a" stroke-width="0.9"/>
<path d="M339.80,298.30 C340.46,297.98 342.47,297.55 343.75,296.40 C345.03,295.25 346.46,292.76 347.50,291.40 C348.54,290.04 349.17,288.67 350.00,288.25 C350.83,287.83 351.67,289.42 352.50,288.90 C353.33,288.38 354.17,286.77 355.00,285.10 C355.83,283.43 356.77,280.67 357.50,278.90 C358.23,277.13 358.67,275.44 359.40,274.50 C360.13,273.56 361.28,273.35 361.90,273.25 C362.52,273.15 362.62,272.96 363.10,273.90 C363.58,274.84 364.31,279.32 364.75,278.90 C365.19,278.48 365.39,271.62 365.75,271.40 C366.11,271.18 366.51,276.35 366.90,277.60 C367.29,278.85 367.68,279.10 368.10,278.90 C368.52,278.70 368.98,277.97 369.40,276.40 C369.82,274.83 370.08,271.07 370.60,269.50 C371.12,267.93 371.93,267.32 372.50,267.00 C373.07,266.68 373.48,268.23 374.00,267.60 C374.52,266.98 375.03,265.85 375.60,263.25 C376.17,260.65 377.10,253.88 377.40,252.00 C377.68,253.83 378.35,259.80 379.10,263.00 C379.85,266.20 381.17,271.98 381.90,271.20 C382.63,270.42 382.92,263.27 383.50,258.30 C384.08,253.33 384.88,243.28 385.40,241.40 C385.92,239.52 386.15,245.23 386.60,247.00 C387.05,248.77 387.70,250.80 388.10,252.00 C388.50,253.20 388.63,252.37 389.00,254.20 C389.37,256.03 389.82,263.87 390.30,263.00 C390.78,262.13 391.32,255.13 391.90,249.00 C392.47,242.87 393.44,230.00 393.75,226.20 C393.99,230.00 394.66,243.25 395.20,249.00 C395.74,254.75 396.41,259.88 397.00,260.70 C397.59,261.52 398.15,255.60 398.75,253.90 C399.35,252.20 399.99,252.58 400.60,250.50 C401.21,248.42 402.10,242.92 402.40,241.40 C402.67,243.08 403.37,247.90 404.00,251.50 C404.63,255.10 405.52,263.42 406.20,263.00 C406.88,262.58 407.58,255.33 408.10,249.00 C408.62,242.67 408.92,232.33 409.30,225.00 C409.68,217.67 410.03,210.83 410.40,205.00 C410.77,199.17 411.12,194.25 411.50,190.00 C411.88,185.75 412.50,181.25 412.70,179.50 C412.80,181.25 413.10,185.75 413.30,190.00 C413.50,194.25 413.72,199.67 413.90,205.00 C414.08,210.33 414.22,215.33 414.40,222.00 C414.58,228.67 414.80,238.33 415.00,245.00 C415.20,251.67 415.39,257.18 415.60,262.00 C415.81,266.82 416.03,269.73 416.25,273.90 C416.47,278.07 416.65,283.57 416.90,287.00 C417.15,290.43 417.33,292.73 417.75,294.50 C418.17,296.27 418.82,296.97 419.40,297.60 C419.98,298.23 420.94,298.18 421.25,298.30" fill="none" stroke="#2a2a2a" stroke-width="0.9"/>
<path d="M24.0,142.4 H103.0" stroke="#000" stroke-width="2.5"/>
<path d="M109.0,142.4 L102.0,138.9 L102.0,145.9 Z" fill="#000"/>
<path d="M17.4,132.5 V30.8" stroke="#000" stroke-width="2.5"/>
<path d="M17.4,24.8 L13.9,31.8 L20.9,31.8 Z" fill="#000"/>
<path d="M70.4,305.5 H149.7" stroke="#000" stroke-width="2.5"/>
<path d="M155.7,305.5 L148.7,302.0 L148.7,309.0 Z" fill="#000"/>
<path d="M63.0,304.7 V196.2" stroke="#000" stroke-width="2.5"/>
<path d="M63.0,190.2 L59.5,197.2 L66.5,197.2 Z" fill="#000"/>
<rect x="27.1" y="23.3" width="14.8" height="8.2" fill="#d6d6d6" stroke="#000" stroke-width="1.5"/>
<rect x="27.1" y="36.8" width="14.8" height="7.8" fill="#fff" stroke="#000" stroke-width="1.5"/>
<rect x="279.8" y="25.6" width="14.4" height="7.8" fill="#a3a3a3" stroke="#000" stroke-width="1.5"/>
<rect x="279.8" y="37.9" width="14.4" height="7.6" fill="#fff" stroke="#000" stroke-width="1.5"/>
<text transform="translate(8.0 12.0) scale(1.035 1)" font-size="11.60" font-weight="bold" text-anchor="start" fill="#000" stroke="#000" stroke-width="0.3">A</text>
<text transform="translate(60.7 11.5) scale(1.035 1)" font-size="11.60" font-weight="bold" text-anchor="start" fill="#000" stroke="#000" stroke-width="0.3">CLL753</text>
<text transform="translate(182.5 11.8) scale(1.050 1)" font-size="11.60" font-weight="bold" text-anchor="start" fill="#000" stroke="#000" stroke-width="0.3">CLL845</text>
<text transform="translate(263.3 12.0) scale(1.035 1)" font-size="11.60" font-weight="bold" text-anchor="start" fill="#000" stroke="#000" stroke-width="0.3">B</text>
<text transform="translate(313.6 11.3) scale(1.035 1)" font-size="11.60" font-weight="bold" text-anchor="start" fill="#000" stroke="#000" stroke-width="0.3">CLL1187</text>
<text transform="translate(437.5 11.5) scale(1.025 1)" font-size="11.60" font-weight="bold" text-anchor="start" fill="#000" stroke="#000" stroke-width="0.3">CLL1181</text>
<text transform="translate(46.0 30.4) scale(0.970 1)" font-size="8.20" font-weight="bold" text-anchor="start" fill="#000" stroke="#000" stroke-width="0.3">MSC</text>
<text transform="translate(46.0 42.9) scale(0.970 1)" font-size="8.20" font-weight="bold" text-anchor="start" fill="#000" stroke="#000" stroke-width="0.3">MSC + CD34<tspan font-size="4.6" dy="-3.3">+</tspan></text>
<text transform="translate(298.6 32.3) scale(0.970 1)" font-size="8.20" font-weight="bold" text-anchor="start" fill="#000" stroke="#000" stroke-width="0.3">CD34<tspan font-size="4.6" dy="-3.3">+</tspan></text>
<text transform="translate(298.6 44.4) scale(0.970 1)" font-size="8.20" font-weight="bold" text-anchor="start" fill="#000" stroke="#000" stroke-width="0.3">MSC + CD34<tspan font-size="4.6" dy="-3.3">+</tspan></text>
<text transform="translate(43.0 155.1) scale(1.035 1)" font-size="11.60" font-weight="bold" text-anchor="start" fill="#000" stroke="#000" stroke-width="0.3">CFSE</text>
<text transform="translate(54.4 176.0) scale(1.035 1)" font-size="11.60" font-weight="bold" text-anchor="start" fill="#000" stroke="#000" stroke-width="0.3">C</text>
<text transform="translate(183.0 176.0) scale(1.035 1)" font-size="11.60" font-weight="bold" text-anchor="start" fill="#000" stroke="#000" stroke-width="0.3">D</text>
<text transform="translate(119.8 168.8) scale(1.035 1)" font-size="11.60" font-weight="bold" text-anchor="start" fill="#000" stroke="#000" stroke-width="0.3">1 week</text>
<text transform="translate(306.4 168.5) scale(1.045 1)" font-size="11.60" font-weight="bold" text-anchor="start" fill="#000" stroke="#000" stroke-width="0.3">4 week</text>
<text transform="translate(130.6 200.0) scale(1.035 1)" font-size="11.60" font-weight="bold" text-anchor="start" fill="#000" stroke="#000" stroke-width="0.3">PB</text>
<text transform="translate(258.2 199.9) scale(1.035 1)" font-size="11.60" font-weight="bold" text-anchor="start" fill="#000" stroke="#000" stroke-width="0.3">PB</text>
<text transform="translate(360.9 200.4) scale(1.035 1)" font-size="11.60" font-weight="bold" text-anchor="start" fill="#000" stroke="#000" stroke-width="0.3">Spleen</text>
<text transform="translate(90.0 319.6) scale(1.035 1)" font-size="11.60" font-weight="bold" text-anchor="start" fill="#000" stroke="#000" stroke-width="0.3">CFSE</text>
<text transform="translate(12.6 125.9) rotate(-90) scale(1.035 1)" font-size="11.60" font-weight="bold" text-anchor="start" fill="#000" stroke="#000" stroke-width="0.3"># of CLL cells</text>
<text transform="translate(58.4 299.8) rotate(-90) scale(1.065 1)" font-size="11.60" font-weight="bold" text-anchor="start" fill="#000" stroke="#000" stroke-width="0.3"># of CD19<tspan font-size="7.2" dy="-4.4">+</tspan><tspan dy="4.4"> cells</tspan></text>
<text transform="translate(89.0 270.7)" font-size="5.80" font-weight="normal" text-anchor="middle" fill="#111">92.1</text>
<text transform="translate(148.0 270.7)" font-size="5.80" font-weight="normal" text-anchor="middle" fill="#111">7.51</text>
<text transform="translate(220.6 270.7)" font-size="5.80" font-weight="normal" text-anchor="middle" fill="#111">16</text>
<text transform="translate(277.3 270.7)" font-size="5.80" font-weight="normal" text-anchor="middle" fill="#111">84</text>
<text transform="translate(345.8 270.7)" font-size="5.80" font-weight="normal" text-anchor="middle" fill="#111">11.3</text>
<text transform="translate(402.9 270.7)" font-size="5.80" font-weight="normal" text-anchor="middle" fill="#111">88.4</text>
</svg>
</body></html>
